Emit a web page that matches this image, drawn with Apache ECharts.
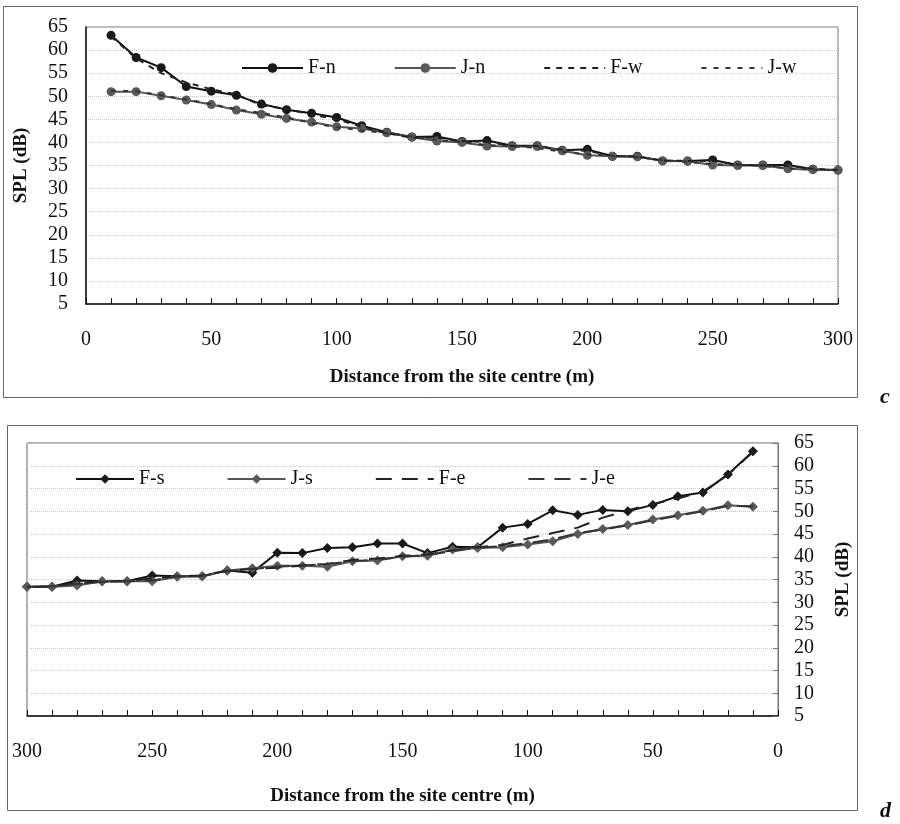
<!DOCTYPE html>
<html><head><meta charset="utf-8">
<script src="https://cdn.jsdelivr.net/npm/echarts@6/dist/echarts.min.js"></script>
<style>html,body{margin:0;padding:0;background:#fff}#c{width:900px;height:824px}</style>
</head><body><div id="c"></div>
<script>
var distances = [10,20,30,40,50,60,70,80,90,100,110,120,130,140,150,160,170,180,190,200,210,220,230,240,250,260,270,280,290,300];
var xTicksTop = [0,50,100,150,200,250,300];
var fN = [63.2,58.4,56.2,52.1,51.1,50.2,48.3,47.1,46.3,45.4,43.6,42.2,41.2,41.3,40.2,40.4,39.3,39.3,38.3,38.5,37.0,37.0,36.0,36.0,36.2,35.1,35.1,35.1,34.2,34.0];
var jN = [51.0,51.0,50.1,49.2,48.2,47.0,46.1,45.2,44.4,43.4,43.0,42.1,41.1,40.3,40.0,39.2,39.1,39.1,38.2,37.2,37.0,36.9,36.0,35.9,35.1,35.0,35.0,34.3,34.1,34.0];
var fW = [63.0,58.2,55.0,53.0,51.5,50.4,48.0,47.3,46.0,45.0,43.4,42.0,41.0,41.0,40.3,40.1,39.2,39.2,38.4,38.2,37.1,36.9,36.1,36.0,36.0,35.2,35.0,34.9,34.3,34.0];
var jW = [51.2,51.1,50.2,49.3,48.3,47.2,46.4,45.4,44.2,43.3,42.6,42.0,41.3,40.5,40.1,39.4,39.2,38.8,38.0,37.4,37.1,36.8,36.2,35.8,35.3,35.1,34.9,34.4,34.1,34.0];
var fS = [63.2,58.1,54.1,53.3,51.4,50.0,50.3,49.2,50.2,47.2,46.4,42.1,42.2,40.8,42.9,42.9,42.1,41.9,40.8,40.9,36.5,37.0,35.7,35.7,35.9,34.6,34.6,34.8,33.4,33.4];
var jS = [51.0,51.3,50.1,49.1,48.2,47.0,46.1,45.0,43.4,42.7,42.1,41.9,41.6,40.2,40.1,39.2,39.0,37.8,38.0,38.0,37.5,37.0,35.7,35.6,34.6,34.6,34.6,33.7,33.4,33.4];
var fE = [63.0,58.0,54.3,52.8,51.6,50.2,48.6,46.4,45.2,44.0,42.6,42.1,41.4,40.5,40.2,39.6,39.3,38.4,38.1,37.6,37.3,36.9,35.9,35.7,35.2,34.7,34.5,34.2,33.5,33.4];
var jE = [51.1,51.2,50.0,49.0,48.0,46.9,46.0,45.2,43.8,43.0,42.3,42.0,41.2,40.4,40.0,39.4,39.0,38.4,38.1,37.8,37.3,36.8,35.8,35.7,34.8,34.6,34.5,34.0,33.5,33.4];

function pairs(vals){ return distances.map(function(d,i){ return [d, vals[i]]; }); }
var FONT = 'Liberation Serif';
var txt = {fontFamily: FONT, fontSize: 20, color: '#111'};
var noMarker = {color: 'rgba(0,0,0,0)', borderWidth: 0, borderColor: 'rgba(0,0,0,0)'};

function xAxisDef(gi, inverse, labelMargin, nameGap){
  return {
    type: 'value', gridIndex: gi, min: 0, max: 300, interval: 10, inverse: inverse,
    axisLine: {lineStyle: {color: '#111', width: 1.5}},
    axisTick: {inside: true, length: 6, lineStyle: {color: '#111'}},
    axisLabel: {fontFamily: FONT, fontSize: 20, color: '#111', margin: labelMargin,
      formatter: function(v){ return xTicksTop.indexOf(v) >= 0 ? String(v) : ''; }},
    splitLine: {show: false},
    name: 'Distance from the site centre (m)', nameLocation: 'middle', nameGap: nameGap,
    nameTextStyle: {fontFamily: FONT, fontSize: 19, fontWeight: 'bold', color: '#111'}
  };
}
function yAxisDef(gi, pos, nameGap){
  return {
    type: 'value', gridIndex: gi, min: 5, max: 65, interval: 5, position: pos,
    axisLine: {show: true, lineStyle: {color: pos === 'left' ? '#111' : '#777', width: pos === 'left' ? 1.5 : 1}},
    axisTick: {show: pos === 'right', inside: true, length: 5, lineStyle: {color: '#777'}},
    axisLabel: {fontFamily: FONT, fontSize: 20, color: '#111', margin: pos === 'left' ? 18 : 16},
    splitLine: {show: true, lineStyle: {color: '#c8c8c8', type: 'dotted', width: 1}},
    name: 'SPL (dB)', nameLocation: 'middle', nameGap: nameGap, nameRotate: 90,
    nameTextStyle: {fontFamily: FONT, fontSize: 19, fontWeight: 'bold', color: '#111'}
  };
}
function lineSeries(name, vals, gi, color, symbol, dash, symColor){
  return {
    name: name, type: 'line', xAxisIndex: gi, yAxisIndex: gi, data: pairs(vals),
    lineStyle: {color: color, width: 2, type: dash || 'solid'},
    itemStyle: {color: symColor || color},
    symbol: symbol || 'none', symbolSize: symbol === 'diamond' ? 10 : 9,
    showSymbol: !!symbol, animation: false, z: dash ? 3 : 2
  };
}

var chart = echarts.init(document.getElementById('c'), null, {renderer: 'canvas'});
chart.setOption({
  animation: false,
  backgroundColor: '#fff',
  grid: [
    {left: 86, top: 27, width: 752, height: 277, show: true, borderColor: '#777', borderWidth: 1, backgroundColor: 'transparent'},
    {left: 27, top: 443, width: 751, height: 273, show: true, borderColor: '#666', borderWidth: 1, backgroundColor: 'transparent'}
  ],
  xAxis: [ xAxisDef(0, false, 26, 64), xAxisDef(1, true, 26, 71) ],
  yAxis: [ yAxisDef(0, 'left', 55), yAxisDef(1, 'right', 56) ],
  legend: [
    {data: ['F-n','J-n',{name:'F-w', itemStyle: noMarker},{name:'J-w', itemStyle: noMarker}],
     left: 236, top: 53, itemWidth: 61, itemHeight: 12, itemGap: 58, textStyle: txt},
    {data: ['F-s','J-s',{name:'F-e', itemStyle: noMarker},{name:'J-e', itemStyle: noMarker}],
     left: 70, top: 464, itemWidth: 58, itemHeight: 12, itemGap: 62, textStyle: txt}
  ],
  series: [
    lineSeries('F-n', fN, 0, '#111', 'circle', null, '#1a1a1a'),
    lineSeries('J-n', jN, 0, '#555', 'circle', null, '#5a5a5a'),
    lineSeries('F-w', fW, 0, '#222', null, [6,6]),
    lineSeries('J-w', jW, 0, '#333', null, [5,7]),
    lineSeries('F-s', fS, 1, '#111', 'diamond', null, '#1a1a1a'),
    lineSeries('J-s', jS, 1, '#555', 'diamond', null, '#5a5a5a'),
    lineSeries('F-e', fE, 1, '#222', null, [16,10]),
    lineSeries('J-e', jE, 1, '#333', null, [16,10])
  ],
  graphic: [
    {type: 'rect', shape: {x: 3.5, y: 6.5, width: 854, height: 391}, style: {fill: 'none', stroke: '#666', lineWidth: 1}},
    {type: 'rect', shape: {x: 7.5, y: 425.5, width: 850, height: 385}, style: {fill: 'none', stroke: '#666', lineWidth: 1}},
    {type: 'text', left: 880, top: 386, style: {text: 'c', font: 'italic bold 22px "Liberation Serif"', fill: '#111'}},
    {type: 'text', left: 880, top: 800, style: {text: 'd', font: 'italic bold 22px "Liberation Serif"', fill: '#111'}}
  ]
});
</script>
</body></html>
